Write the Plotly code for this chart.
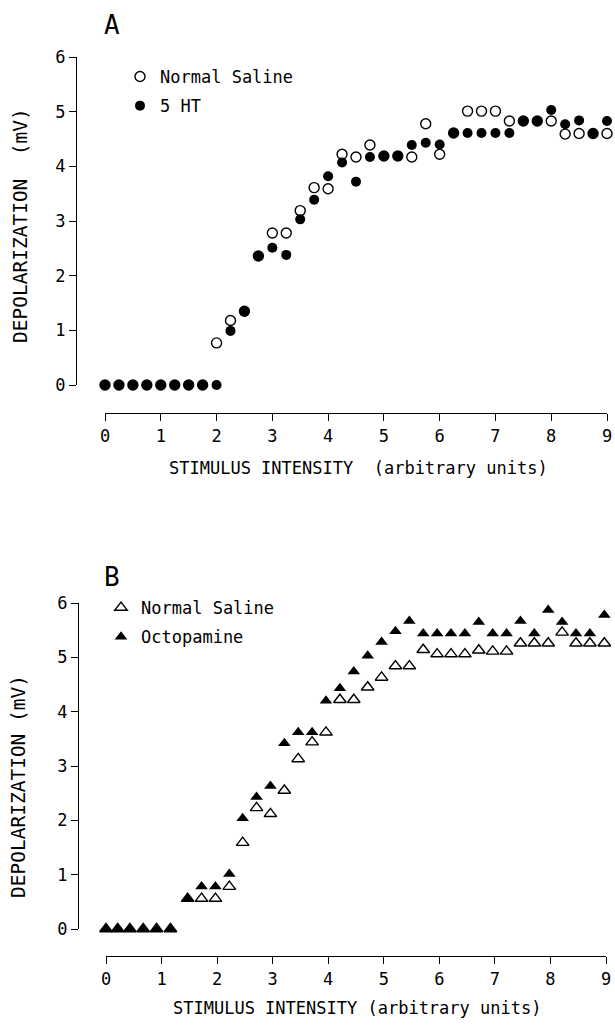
import plotly.graph_objects as go

W, H = 615, 1029

# ---------------- data ----------------
# Panel A
x_a = [0, 0.25, 0.5, 0.75, 1, 1.25, 1.5, 1.75, 2, 2.25, 2.5, 2.75, 3, 3.25, 3.5, 3.75,
       4, 4.25, 4.5, 4.75, 5, 5.25, 5.5, 5.75, 6, 6.25, 6.5, 6.75, 7, 7.25, 7.5, 7.75,
       8, 8.25, 8.5, 8.75, 9]
saline_a = [0, 0, 0, 0, 0, 0, 0, 0, 0.77, 1.18, 1.35, 2.36, 2.78, 2.78, 3.19, 3.61,
            3.59, 4.22, 4.17, 4.39, 4.19, 4.19, 4.17, 4.78, 4.22, 4.61, 5.01, 5.01, 5.01,
            4.83, 4.83, 4.83, 4.83, 4.59, 4.60, 4.60, 4.60]
ht5_a = [0, 0, 0, 0, 0, 0, 0, 0, 0, 0.99, 1.35, 2.36, 2.51, 2.38, 3.03, 3.39,
         3.82, 4.07, 3.72, 4.17, 4.19, 4.19, 4.39, 4.43, 4.40, 4.61, 4.61, 4.61, 4.61,
         4.61, 4.83, 4.83, 5.03, 4.77, 4.84, 4.60, 4.83]

# Panel B
x_b = [0, 0.21, 0.43, 0.67, 0.91, 1.16, 1.47, 1.72, 1.97, 2.22, 2.46, 2.71, 2.96, 3.21,
       3.46, 3.71, 3.96, 4.21, 4.46, 4.71, 4.96, 5.21, 5.46, 5.71, 5.96, 6.21, 6.46,
       6.71, 6.96, 7.21, 7.46, 7.71, 7.96, 8.21, 8.46, 8.71, 8.97]
saline_b = [0, 0, 0, 0, 0, 0, 0.56, 0.56, 0.56, 0.78, 1.59, 2.23, 2.12, 2.55, 3.13, 3.44,
            3.62, 4.22, 4.22, 4.45, 4.63, 4.84, 4.84, 5.14, 5.06, 5.06, 5.06, 5.13, 5.11,
            5.11, 5.26, 5.26, 5.26, 5.46, 5.26, 5.26, 5.26]
octo_b = [0, 0, 0, 0, 0, 0, 0.56, 0.78, 0.78, 1.01, 2.04, 2.43, 2.63, 3.42, 3.62, 3.62,
          4.20, 4.43, 4.74, 5.03, 5.28, 5.48, 5.67, 5.44, 5.44, 5.44, 5.44, 5.65, 5.44,
          5.44, 5.67, 5.44, 5.87, 5.65, 5.44, 5.44, 5.78]

x_ticks = list(range(10))
y_ticks = list(range(7))
x_title_a = "STIMULUS INTENSITY  (arbitrary units)"
x_title_b = "STIMULUS INTENSITY (arbitrary units)"
y_title_a = "DEPOLARIZATION  (mV)"
y_title_b = "DEPOLARIZATION (mV)"

FONT = "DejaVu Sans Mono"


def fx(p):
    return p / W


def fy(p):
    return 1 - p / H


fig = go.Figure()

# Panel A traces
fig.add_trace(go.Scatter(x=x_a, y=saline_a, mode="markers", name="Normal Saline",
                         marker=dict(symbol="circle-open", size=10, color="black",
                                     line=dict(width=1.4, color="black")),
                         xaxis="x", yaxis="y", legend="legend", legendgroup="a1",
                         cliponaxis=False))
fig.add_trace(go.Scatter(x=x_a, y=ht5_a, mode="markers", name="5 HT",
                         marker=dict(symbol="circle", size=10, color="black"),
                         xaxis="x", yaxis="y", legend="legend", legendgroup="a2",
                         cliponaxis=False))

# Panel B traces
fig.add_trace(go.Scatter(x=x_b, y=saline_b, mode="markers", name="Normal Saline",
                         marker=dict(symbol="triangle-up-open", size=11, color="black",
                                     line=dict(width=1.4, color="black")),
                         xaxis="x2", yaxis="y2", legend="legend2", legendgroup="b1",
                         cliponaxis=False))
fig.add_trace(go.Scatter(x=x_b, y=octo_b, mode="markers", name="Octopamine",
                         marker=dict(symbol="triangle-up", size=11, color="black"),
                         xaxis="x2", yaxis="y2", legend="legend2", legendgroup="b2",
                         cliponaxis=False))

axis_common = dict(ticks="outside", ticklen=7, tickwidth=1.3, tickcolor="black",
                   showline=True, linecolor="black", linewidth=1.3, showgrid=False,
                   zeroline=False, tickfont=dict(family=FONT, size=17, color="black"),
                   anchor="free", automargin=False)

fig.update_layout(
    width=W, height=H,
    margin=dict(l=0, r=0, t=0, b=0, autoexpand=False),
    paper_bgcolor="white", plot_bgcolor="white",
    showlegend=True,
    xaxis=dict(axis_common, domain=[fx(105), fx(607)], range=[0, 9],
               tickvals=x_ticks, position=fy(413)),
    yaxis=dict(axis_common, domain=[fy(385), fy(57)], range=[0, 6],
               tickvals=y_ticks, position=fx(76)),
    xaxis2=dict(axis_common, domain=[fx(106), fx(606)], range=[0, 9],
                tickvals=x_ticks, position=fy(956)),
    yaxis2=dict(axis_common, domain=[fy(929), fy(603)], range=[0, 6],
                tickvals=y_ticks, position=fx(78)),
    legend=dict(x=fx(120), y=fy(59), xanchor="left", yanchor="top",
                bgcolor="rgba(0,0,0,0)", tracegroupgap=4,
                font=dict(family=FONT, size=17, color="black")),
    legend2=dict(x=fx(101), y=fy(590), xanchor="left", yanchor="top",
                 bgcolor="rgba(0,0,0,0)", tracegroupgap=4,
                 font=dict(family=FONT, size=17, color="black")),
)

ann = []
ann.append(dict(text="A", x=fx(112), y=fy(25), xref="paper", yref="paper",
                xanchor="center", yanchor="middle",
                showarrow=False, font=dict(family=FONT, size=26, color="black")))
ann.append(dict(text="B", x=fx(112), y=fy(577), xref="paper", yref="paper",
                xanchor="center", yanchor="middle",
                showarrow=False, font=dict(family=FONT, size=26, color="black")))
ann.append(dict(text=x_title_a, x=fx(358), y=fy(468), xref="paper", yref="paper",
                xanchor="center", yanchor="middle",
                showarrow=False, font=dict(family=FONT, size=17, color="black")))
ann.append(dict(text=x_title_b, x=fx(357), y=fy(1008), xref="paper", yref="paper",
                xanchor="center", yanchor="middle",
                showarrow=False, font=dict(family=FONT, size=17, color="black")))
ann.append(dict(text=y_title_a, x=fx(21), y=fy(226), xref="paper", yref="paper",
                xanchor="center", yanchor="middle",
                textangle=-90, showarrow=False,
                font=dict(family=FONT, size=19.5, color="black")))
ann.append(dict(text=y_title_b, x=fx(18), y=fy(787), xref="paper", yref="paper",
                xanchor="center", yanchor="middle",
                textangle=-90, showarrow=False,
                font=dict(family=FONT, size=19.5, color="black")))
fig.update_layout(annotations=ann)

# remove the browser's default page margin so the figure sits at the window origin
fig.write_html(
    "out.html",
    config={"displayModeBar": False},
    post_script="document.body.style.margin='0';document.body.style.overflow='hidden';",
)
